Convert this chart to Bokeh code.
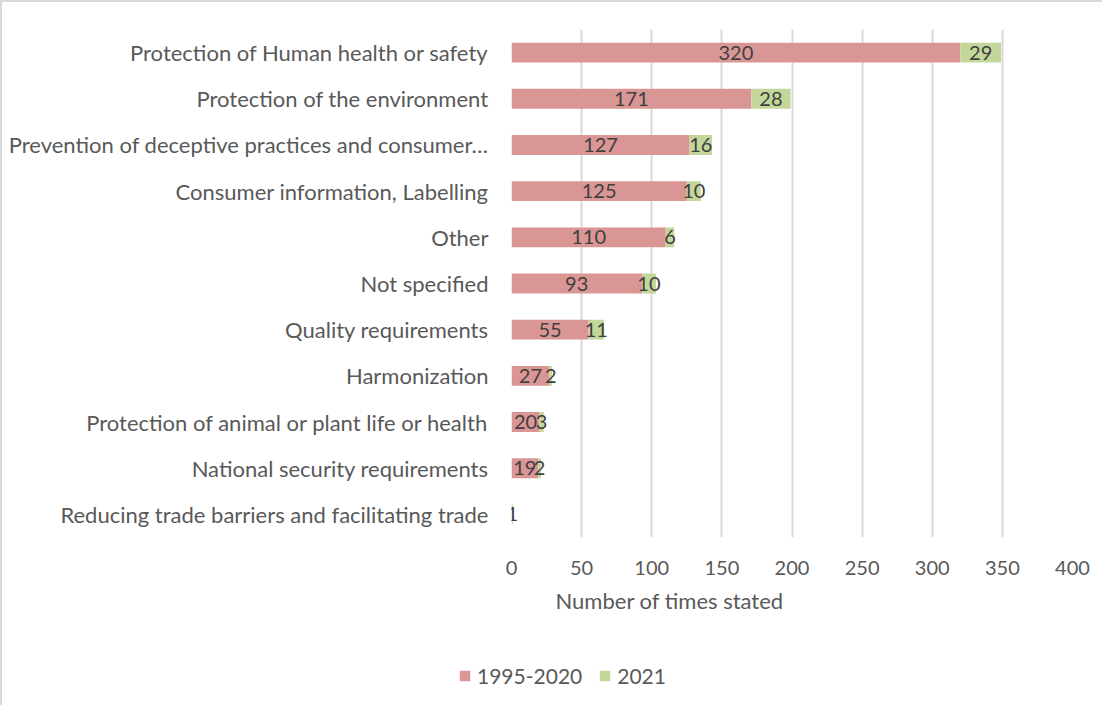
from bokeh.plotting import figure
from bokeh.layouts import column, row
from bokeh.models import ColumnDataSource, FactorRange, Legend, LegendItem, Range1d, Title, Spacer
from bokeh.embed import file_html
from bokeh.resources import INLINE
from bokeh.core.properties import value

categories = [
    "Protection of Human health or safety",
    "Protection of the environment",
    "Prevention of deceptive practices and consumer\u2026",
    "Consumer information, Labelling",
    "Other",
    "Not specified",
    "Quality requirements",
    "Harmonization",
    "Protection of animal or plant life or health",
    "National security requirements",
    "Reducing trade barriers and facilitating trade",
]
v_1995_2020 = [320, 171, 127, 125, 110, 93, 55, 27, 20, 19, 0]
v_2021 = [29, 28, 16, 10, 6, 10, 11, 2, 3, 2, 1]
series_names = ["1995-2020", "2021"]
x_ticks = [0, 50, 100, 150, 200, 250, 300, 350, 400]
x_title = "Number of times stated"

PINK = "#da9694"
GREEN = "#c4d79b"
TXT = "#595959"
LBL = "#404040"
FONT = "Lato"
BORDER = "2px solid #d9d9d9"

ends = [a + b for a, b in zip(v_1995_2020, v_2021)]
src = ColumnDataSource(dict(cat=categories, a=v_1995_2020, b=v_2021, end=ends))

p = figure(
    width=1100, height=630,
    y_range=FactorRange(factors=list(reversed(categories))),
    x_range=Range1d(0, 400),
    output_backend="svg", toolbar_location=None,
    min_border_left=509, min_border_right=30, min_border_top=27, min_border_bottom=95,
)
p.outline_line_color = None

r1 = p.hbar(y="cat", left=0, right="a", height=0.43, source=src, color=PINK, line_color=None)
r2 = p.hbar(y="cat", left="a", right="end", height=0.43, source=src, color=GREEN, line_color=None)

# data labels
la = [(c, a / 2, str(a)) for c, a in zip(categories, v_1995_2020) if a > 0]
lb = [(c, a + b / 2, str(b)) for c, a, b in zip(categories, v_1995_2020, v_2021) if b > 0]
for items in (la, lb):
    s = ColumnDataSource(dict(y=[i[0] for i in items], x=[i[1] for i in items], t=[i[2] for i in items]))
    p.text(x="x", y="y", text="t", source=s, text_align="center", text_baseline="middle",
           text_color=LBL, text_font=value(FONT), text_font_size="20px")

p.xaxis.ticker = x_ticks
p.xaxis.major_tick_line_color = None
p.xaxis.minor_tick_line_color = None
p.xaxis.axis_line_color = None
p.xaxis.major_label_text_font = FONT
p.xaxis.major_label_text_font_size = "20px"
p.xaxis.major_label_text_color = TXT
p.xaxis.major_label_standoff = 17

p.yaxis.major_tick_line_color = None
p.yaxis.minor_tick_line_color = None
p.yaxis.axis_line_color = None
p.yaxis.major_label_text_font = FONT
p.yaxis.major_label_text_font_size = "22px"
p.yaxis.major_label_text_color = TXT
p.yaxis.major_label_standoff = 17

p.xgrid.grid_line_color = "#d9d9d9"
p.xgrid.grid_line_width = 2
p.ygrid.grid_line_color = None

t = Title(text=x_title, align="left", offset=44, text_font=FONT, text_font_size="22px",
          text_color=TXT, text_font_style="normal", standoff=14)
p.add_layout(t, "below")

# legend strip (swatch renderers are zero-height and out of view)
p2 = figure(width=300, height=73, x_range=Range1d(0, 1), y_range=Range1d(0, 1),
            x_axis_type=None, y_axis_type=None, output_backend="svg", toolbar_location=None,
            min_border_left=0, min_border_right=0, min_border_top=0, min_border_bottom=17)
p2.outline_line_color = None
e = ColumnDataSource(dict(y=[-10], l=[5], r=[6]))
g1 = p2.hbar(y="y", left="l", right="r", height=0, source=e, color=PINK, line_color=None)
g2 = p2.hbar(y="y", left="l", right="r", height=0, source=e, color=GREEN, line_color=None)
legend = Legend(items=[LegendItem(label=series_names[0], renderers=[g1]),
                       LegendItem(label=series_names[1], renderers=[g2])],
                orientation="horizontal", location="bottom_left", padding=0, margin=0,
                label_text_font=FONT, label_text_font_size="21px", label_text_color=TXT,
                glyph_width=13, glyph_height=13, spacing=16, label_standoff=6,
                border_line_color=None, background_fill_alpha=0)
p2.add_layout(legend)

layout = column(p, row(Spacer(width=456, height=73), p2, spacing=0), spacing=0)
layout.styles = {"border-left": BORDER, "border-top": BORDER}

open("out.html", "w").write(file_html(layout, INLINE))
